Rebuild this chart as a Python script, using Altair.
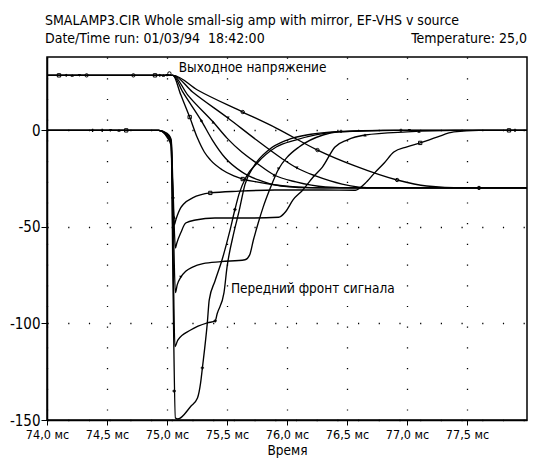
import altair as alt
import pandas as pd

TITLE_1 = "SMALAMP3.CIR Whole small-sig amp with mirror, EF-VHS v source"
TITLE_2 = "Date/Time run: 01/03/94\u00a0\u00a018:42:00"
TEMP_TEXT = "Temperature: 25,0"
X_TITLE = "Время"
LBL_OUT = "Выходное напряжение"
LBL_IN = "Передний фронт сигнала"

x_ticks = [74.0, 74.5, 75.0, 75.5, 76.0, 76.5, 77.0, 77.5]
y_ticks = [0, -50, -100, -150]

# Output voltage curves (start ~ +28.5, fall to ~ -30)
a1_t = [74.0, 75.0, 75.049, 75.115, 75.189, 75.254, 75.311, 75.361, 75.459, 75.557, 75.631, 75.746, 75.910, 76.074, 76.32, 78.0]
a1_v = [28.5, 28.5, 28.5, 18.4, 6.9, -4.0, -11.2, -15.3, -20.4, -23.6, -25.2, -26.7, -28.3, -29.3, -29.8, -29.8]
a2_t = [74.0, 75.0, 75.049, 75.131, 75.287, 75.377, 75.484, 75.623, 75.762, 75.951, 76.238, 78.0]
a2_v = [28.5, 28.5, 28.5, 19.9, 4.9, -4.9, -14.2, -21.5, -25.7, -28.8, -29.8, -29.8]
a3_t = [74.0, 75.0, 75.049, 75.172, 75.385, 75.5, 75.623, 75.746, 75.893, 76.074, 76.32, 76.566, 78.0]
a3_v = [28.5, 28.5, 28.5, 18.4, 4.3, -4.0, -11.2, -16.9, -23.1, -26.7, -29.3, -29.8, -29.8]
a4_t = [74.0, 75.0, 75.049, 75.213, 75.508, 75.746, 75.951, 76.082, 76.238, 76.459, 76.730, 78.0]
a4_v = [28.5, 28.5, 28.5, 19.9, 6.4, -5.0, -14.3, -19.5, -23.6, -27.8, -29.8, -29.8]
a5_t = [74.0, 75.0, 75.049, 75.254, 75.631, 75.910, 76.254, 76.566, 76.918, 77.164, 77.467, 78.0]
a5_v = [28.5, 28.5, 28.5, 20.9, 9.5, 1.2, -10.2, -18.4, -25.7, -28.8, -29.8, -29.8]

# Leading-edge curves (start 0, sharp drop, plateau, recovery to 0)
b1_t = [74.0, 74.93, 75.0, 75.03, 75.045, 75.06, 75.075, 75.115, 75.139, 75.213, 75.361, 75.6, 75.9, 76.3, 76.57, 76.65, 76.73, 76.81, 76.89, 77.0, 77.11, 77.25, 77.39, 77.6, 78.0]
b1_v = [0, 0, -1.5, -4, -25, -49, -46, -40, -38.1, -35, -32.4, -31.5, -30.9, -30.9, -31, -27.5, -22, -16.9, -11.2, -8.5, -6.5, -3.5, -0.8, 0, 0]
b2_t = [74.0, 74.93, 75.0, 75.035, 75.05, 75.07, 75.082, 75.115, 75.156, 75.238, 75.4, 75.7, 75.93, 75.99, 76.05, 76.13, 76.22, 76.295, 76.40, 76.50, 76.65, 77.0, 77.4, 78.0]
b2_v = [0, 0, -2, -5, -30, -60.9, -58.3, -53, -48, -46.4, -45.4, -45.4, -45, -42, -36, -31, -24, -19, -8.6, -5, -2.4, -0.8, 0, 0]
b3_t = [74.0, 74.93, 75.0, 75.035, 75.05, 75.07, 75.085, 75.115, 75.156, 75.213, 75.3, 75.45, 75.65, 75.689, 75.72, 75.76, 75.80, 75.86, 75.93, 76.0, 76.10, 76.30, 76.43, 76.9, 78.0]
b3_v = [0, 0, -2.5, -6, -40, -84, -80, -76, -73, -70.8, -69, -68, -67, -64.5, -56.8, -48, -40, -30, -20, -14, -8.6, -2.4, -0.8, 0, 0]
b4_t = [74.0, 74.93, 75.0, 75.035, 75.05, 75.066, 75.09, 75.197, 75.336, 75.402, 75.418, 75.475, 75.50, 75.557, 75.6, 75.65, 75.73, 75.85, 76.0, 76.2, 76.45, 76.8, 78.0]
b4_v = [0, 0, -3, -7, -60, -112, -108.6, -103.4, -99.7, -98.7, -95, -84, -71, -53, -42, -28, -18, -10, -5, -2, -0.5, 0, 0]
b5_t = [74.0, 74.93, 75.0, 75.035, 75.05, 75.07, 75.09, 75.197, 75.254, 75.28, 75.295, 75.336, 75.352, 75.40, 75.459, 75.52, 75.566, 75.6, 75.66, 75.75, 75.91, 76.07, 76.43, 76.8, 78.0]
b5_v = [0, 0, -3.5, -8, -80, -149, -149.5, -143, -138.6, -130.8, -123, -99.7, -87.8, -78, -67, -53, -41, -33, -24, -17, -8.6, -5, -0.8, 0, 0]

# Small curve markers (PSpice symbols)
mk_a1_t = [74.10, 74.90, 75.189, 75.631]
mk_a1_v = [28.5, 28.5, 6.9, -25.2]
mk_a2_t = [74.16, 74.94, 75.287]
mk_a2_v = [28.5, 28.5, 4.9]
mk_a3_t = [74.21, 74.97, 75.385, 75.893]
mk_a3_v = [28.5, 28.5, 4.3, -23.1]
mk_a4_t = [74.27, 75.0, 75.508, 76.082]
mk_a4_v = [28.5, 28.5, 6.4, -19.5]
mk_a5_t = [74.33, 74.72, 75.02, 75.631, 76.254, 76.918, 77.6]
mk_a5_v = [28.5, 28.5, 29.5, 9.5, -10.2, -25.7, -29.8]
mk_b1_t = [74.66, 75.361, 77.11, 77.85]
mk_b1_v = [0, -32.4, -6.5, 0]
mk_b2_t = [74.60, 75.06, 76.65, 77.10]
mk_b2_v = [0, -45, -2.4, -0.5]
mk_b3_t = [74.53, 75.115, 75.93, 77.02]
mk_b3_v = [0, -76, -20, 0]
mk_b4_t = [74.46, 75.05, 75.402, 76.45, 76.95]
mk_b4_v = [0, -35, -98.7, -0.5, 0]
mk_b5_t = [74.38, 75.06, 75.295, 75.566, 77.9]
mk_b5_v = [0, -135, -123, -41, 0]

series = {
    "A1": (a1_t, a1_v), "A2": (a2_t, a2_v), "A3": (a3_t, a3_v),
    "A4": (a4_t, a4_v), "A5": (a5_t, a5_v),
    "B1": (b1_t, b1_v), "B2": (b2_t, b2_v), "B3": (b3_t, b3_v),
    "B4": (b4_t, b4_v), "B5": (b5_t, b5_v),
}
markers = {
    "A1": (mk_a1_t, mk_a1_v), "A2": (mk_a2_t, mk_a2_v), "A3": (mk_a3_t, mk_a3_v),
    "A4": (mk_a4_t, mk_a4_v), "A5": (mk_a5_t, mk_a5_v),
    "B1": (mk_b1_t, mk_b1_v), "B2": (mk_b2_t, mk_b2_v), "B3": (mk_b3_t, mk_b3_v),
    "B4": (mk_b4_t, mk_b4_v), "B5": (mk_b5_t, mk_b5_v),
}
series_names = ["A1", "A2", "A3", "A4", "A5", "B1", "B2", "B3", "B4", "B5"]
series_shapes = ["square", "diamond", "triangle-up", "triangle-down", "circle",
                 "square", "triangle-up", "triangle-down", "cross", "cross"]
open_series = ["A1", "A5", "B1"]

rows = []
for name, (ts, vs) in series.items():
    for t, v in zip(ts, vs):
        rows.append({"series": name, "t": t, "v": v})
df = pd.DataFrame(rows)

mrows = []
for name, (ts, vs) in markers.items():
    for t, v in zip(ts, vs):
        mrows.append({"series": name, "t": t, "v": v,
                      "open": name in open_series})
mdf = pd.DataFrame(mrows)

ann_label = [LBL_OUT, LBL_IN]
ann_t = [75.098, 75.533]
ann_v = [30.2, -84.2]
ann = pd.DataFrame({"label": ann_label, "t": ann_t, "v": ann_v})

FONT = "DejaVu Sans Condensed, Liberation Sans Narrow, Arial Narrow, Liberation Sans, sans-serif"

W, H = 480, 363
xs = alt.Scale(domain=[74, 78], nice=False, zero=False)
ys = alt.Scale(domain=[-150, 38], nice=False, zero=False)
shape_scale = alt.Scale(domain=series_names, range=series_shapes)

lines = alt.Chart(df).mark_line(
    color="black", strokeWidth=1.35, interpolate="monotone"
).encode(
    x=alt.X("t:Q", scale=xs, axis=alt.Axis(
        values=x_ticks,
        labelExpr="replace(format(datum.value, '.1f'), '.', ',') + ' мс'",
        title=X_TITLE, titleFont=FONT, titleFontSize=13.5, titleFontWeight="normal",
        titleColor="black", titlePadding=3,
        labelFont=FONT, labelFontSize=12.5, labelColor="black", labelPadding=3,
        tickSize=5, tickColor="black", domainColor="black", domainWidth=1.5,
        grid=True, gridColor="black", gridDash=[1.2, 19.5], gridWidth=1.3,
        labelFlush=False,
    )),
    y=alt.Y("v:Q", scale=ys, axis=alt.Axis(
        values=y_ticks, labelExpr="'' + datum.value", title=None,
        labelFont=FONT, labelFontSize=15, labelColor="black", labelPadding=1,
        tickSize=6, tickColor="black", domainColor="black", domainWidth=1.5,
        grid=True, gridColor="black", gridDash=[1.2, 19.5], gridWidth=1.3,
    )),
    detail="series:N",
)

pts_open = alt.Chart(mdf).transform_filter("datum.open").mark_point(
    filled=False, color="black", size=11, strokeWidth=1, opacity=1
).encode(
    x=alt.X("t:Q", scale=xs), y=alt.Y("v:Q", scale=ys),
    shape=alt.Shape("series:N", scale=shape_scale, legend=None),
)
pts_fill = alt.Chart(mdf).transform_filter("!datum.open").mark_point(
    filled=True, color="black", size=11, opacity=1
).encode(
    x=alt.X("t:Q", scale=xs), y=alt.Y("v:Q", scale=ys),
    shape=alt.Shape("series:N", scale=shape_scale, legend=None),
)

texts = alt.Chart(ann).mark_text(
    align="left", baseline="alphabetic", font=FONT, fontSize=13.5, color="black"
).encode(x=alt.X("t:Q", scale=xs), y=alt.Y("v:Q", scale=ys), text="label:N")

head = pd.DataFrame({
    "label": [TITLE_1, TITLE_2, TEMP_TEXT],
    "px": [-2, -2, W],
    "py": [-32, -14, -14],
})
head_left = alt.Chart(head.iloc[:2]).mark_text(
    align="left", baseline="alphabetic", font=FONT, fontSize=14, color="black"
).encode(x=alt.X("px:Q", scale=None), y=alt.Y("py:Q", scale=None), text="label:N")
head_right = alt.Chart(head.iloc[2:]).mark_text(
    align="right", baseline="alphabetic", font=FONT, fontSize=14, color="black"
).encode(x=alt.X("px:Q", scale=None), y=alt.Y("py:Q", scale=None), text="label:N")

chart = alt.layer(lines, pts_open, pts_fill, texts, head_left, head_right).properties(
    width=W, height=H,
    padding={"left": 39, "top": 49, "right": 1, "bottom": 38},
    autosize=alt.AutoSizeParams(type="none"),
).configure_view(stroke="black", strokeWidth=1.5)

chart.save("out.html", embed_options={"renderer": "svg", "actions": False})
